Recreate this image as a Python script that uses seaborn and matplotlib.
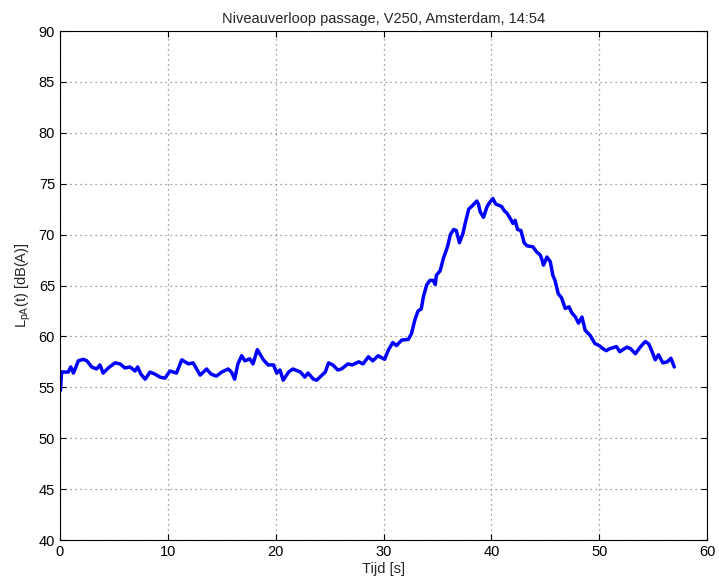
import numpy as np
import pandas as pd
import matplotlib
matplotlib.use("Agg")
import matplotlib.pyplot as plt
import seaborn as sns

# ---- data ----
tijd = [0.05, 0.15, 0.77, 1.0, 1.25, 1.7, 2.16, 2.5, 2.94, 3.4, 3.71, 4.0, 4.48,
        5.1, 5.56, 6.03, 6.5, 6.96, 7.2, 7.5, 7.9, 8.35, 8.8, 9.27, 9.74, 10.2,
        10.8, 11.3, 11.9, 12.35, 13.0, 13.6, 14.0, 14.5, 15.0, 15.6, 15.9, 16.2,
        16.5, 16.85, 17.15, 17.6, 17.9, 18.3, 18.86, 19.3, 19.8, 20.1, 20.4, 20.7,
        21.2, 21.6, 22.3, 22.7, 23.0, 23.5, 23.8, 24.3, 24.6, 24.9, 25.3, 25.76,
        26.1, 26.7, 27.1, 27.7, 28.1, 28.6, 29.0, 29.5, 30.1, 30.45, 30.86, 31.2,
        31.7, 32.3, 32.6, 32.9, 33.2, 33.5, 33.7, 34.0, 34.3, 34.6, 34.8, 34.9,
        35.25, 35.56, 35.93, 36.2, 36.5, 36.75, 37.04, 37.36, 37.57, 37.9, 38.2,
        38.65, 38.8, 38.96, 39.27, 39.6, 39.8, 40.14, 40.4, 40.66, 40.96, 41.19,
        41.45, 41.74, 42.0, 42.2, 42.43, 42.74, 43.04, 43.3, 43.85, 44.2, 44.53,
        44.7, 44.83, 45.15, 45.46, 45.7, 45.9, 46.2, 46.5, 46.85, 47.2, 47.47,
        47.8, 48.08, 48.4, 48.7, 49.16, 49.6, 50.0, 50.34, 50.65, 51.0, 51.6,
        51.9, 52.57, 52.9, 53.35, 53.8, 54.27, 54.6, 54.9, 55.2, 55.5, 55.9,
        56.3, 56.65, 56.96]

niveau = [54.7, 56.5, 56.5, 57.0, 56.4, 57.6, 57.75, 57.6, 57.0, 56.8, 57.2, 56.4, 56.9,
          57.4, 57.3, 56.9, 57.0, 56.6, 57.0, 56.3, 55.8, 56.5, 56.3, 56.0, 55.9, 56.6,
          56.4, 57.7, 57.3, 57.4, 56.2, 56.8, 56.3, 56.1, 56.5, 56.8, 56.5, 55.8,
          57.3, 58.1, 57.6, 57.8, 57.3, 58.7, 57.7, 57.2, 57.2, 56.4, 56.7, 55.7,
          56.5, 56.8, 56.5, 56.0, 56.4, 55.8, 55.7, 56.2, 56.5, 57.4, 57.2, 56.7,
          56.8, 57.3, 57.2, 57.5, 57.3, 58.0, 57.6, 58.1, 57.75, 58.66, 59.4, 59.1,
          59.65, 59.7, 60.3, 61.6, 62.5, 62.7, 63.9, 65.05, 65.5, 65.5, 65.1, 66.0,
          66.45, 67.7, 68.8, 70.0, 70.5, 70.4, 69.2, 70.1, 71.1, 72.5, 72.8,
          73.3, 73.0, 72.25, 71.7, 72.75, 73.1, 73.55, 73.0, 72.9, 72.75, 72.35,
          72.1, 71.6, 71.1, 71.4, 70.5, 70.4, 69.2, 68.9, 68.8, 68.3, 68.0,
          67.5, 67.0, 67.8, 67.35, 66.0, 65.5, 64.2, 63.8, 62.75, 62.9, 62.3,
          61.9, 61.3, 61.9, 60.6, 60.1, 59.3, 59.1, 58.8, 58.6, 58.8, 59.0,
          58.5, 58.95, 58.8, 58.3, 58.95, 59.5, 59.25, 58.5, 57.7, 58.2, 57.4,
          57.5, 57.85, 57.0]

x_ticks = [0, 10, 20, 30, 40, 50, 60]
y_ticks = [40, 45, 50, 55, 60, 65, 70, 75, 80, 85, 90]

df = pd.DataFrame({"tijd": tijd, "niveau": niveau})

sns.set_style("ticks")
plt.rcParams['font.family'] = ['Liberation Sans', 'DejaVu Sans']

fig = plt.figure(figsize=(7.19, 5.85), dpi=100)
ax = fig.add_axes([0.0834, 0.0769, 0.9, 0.8701])

sns.lineplot(data=df, x="tijd", y="niveau", color=(0, 0, 1), linewidth=2.5,
             sort=False, ax=ax)

ax.set_xlim(0, 60)
ax.set_ylim(40, 90)
ax.set_xticks(x_ticks)
ax.set_yticks(y_ticks)
ax.tick_params(direction="in", top=True, right=True, labelsize=10.5,
               length=4, width=0.8, colors="black")
ax.grid(True, linestyle=(0, (1, 3)), color="0.5", linewidth=0.9)
for s in ax.spines.values():
    s.set_linewidth(0.8)
    s.set_color("black")

ax.set_title("Niveauverloop passage, V250, Amsterdam, 14:54", fontsize=10.5)
ax.set_xlabel("Tijd [s]", fontsize=10.5, labelpad=2)
ax.set_ylabel(r"L$_{\mathregular{pA}}$(t) [dB(A)]", fontsize=10.5, labelpad=4)

fig.savefig("out.png", dpi=100)
